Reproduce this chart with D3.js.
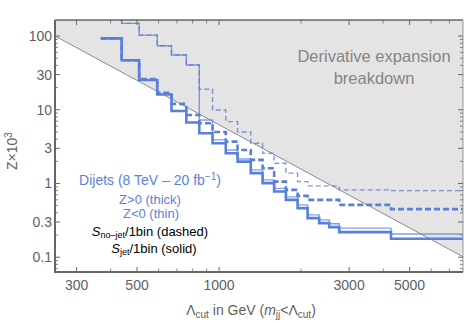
<!DOCTYPE html>
<html><head><meta charset="utf-8">
<script src="https://cdn.jsdelivr.net/npm/d3@7"></script>
<style>body{margin:0;background:#fff}svg{display:block;font-family:"Liberation Sans",Arial,sans-serif}</style>
</head><body><svg id="c" width="467" height="323"></svg>
<script>
// bin edges in Λcut (GeV)
const edges = [368, 439, 509, 593, 669, 758, 846, 946, 1058, 1169, 1307, 1444, 1592, 1758, 1941, 2112, 2329, 2535, 2759, 4272, 7850];
// Z x 10^3, Z>0 (thick), S_jet/1bin (solid)
const posJet = [93, 46.9, 25.3, 16.1, 9.63, 6.73, 4.80, 3.52, 2.57, 1.98, 1.38, 1.01, 0.777, 0.600, 0.463, 0.339, 0.290, 0.256, 0.219, 0.178];
// Z>0 (thick), S_no-jet/1bin (dashed)
const posNoJet = [93, 46.9, 26.0, 17.0, 12.0, 8.50, 6.57, 5.00, 3.70, 2.85, 2.09, 1.61, 1.06, 0.819, 0.679, 0.600, 0.600, 0.600, 0.513, 0.449];
// Z<0 (thin), S_no-jet/1bin (dashed)
const negNoJet = [300, 148.6, 103, 73.9, 55.3, 40.5, 19.0, 9.94, 6.90, 5.00, 3.52, 2.57, 1.88, 1.38, 1.06, 0.928, 0.928, 0.928, 0.819, 0.80];
// Z<0 (thin), S_jet/1bin (solid)
const negJet = [300, 148.6, 103, 73.9, 55.3, 40.5, 7.27, 3.90, 2.85, 2.15, 1.53, 1.12, 0.858, 0.658, 0.513, 0.375, 0.321, 0.284, 0.248, 0.206];
// breakdown boundary: Z x 10^3 = (boundaryScale / Λ)^2
const boundaryScale = 2500;
const xMajor = [300, 500, 1000, 3000, 5000];
const xMinor = [400, 600, 700, 800, 900, 2000, 4000, 6000, 7000];
const yMajor = [0.1, 0.3, 1, 3, 10, 30, 100];
const yMinor = [0.07, 0.08, 0.09, 0.2, 0.4, 0.5, 0.6, 0.7, 0.8, 0.9, 2, 4, 5, 6, 7, 8, 9, 20, 40, 50, 60, 70, 80, 90];

const svg = d3.select("#c");
const L = 55, R = 463, T = 20, B = 272;
const x = d3.scaleLog().domain([250, 7850]).range([L, R]);
const y = d3.scaleLog().domain([0.063, 165]).range([B, T]);

svg.append("defs").append("clipPath").attr("id", "clip")
  .append("rect").attr("x", L).attr("y", T).attr("width", R - L).attr("height", B - T);

// gray breakdown region
const xs = d3.range(0, 41).map(i => 250 * Math.pow(7850 / 250, i / 40));
const bline = xs.map(v => [x(v), y(Math.pow(boundaryScale / v, 2))]);
const poly = [[L, T], ...bline, [R, T]];
svg.append("path").attr("clip-path", "url(#clip)")
  .attr("d", "M" + poly.map(p => p.join(",")).join("L") + "Z")
  .attr("fill", "#e4e4e4");
svg.append("path").attr("clip-path", "url(#clip)")
  .attr("d", d3.line()(bline)).attr("fill", "none").attr("stroke", "#8a8a8a").attr("stroke-width", 1);

// step lines
const stepLine = d3.line().x(d => x(d[0])).y(d => y(d[1])).curve(d3.curveStepAfter);
function pts(vals) { const p = vals.map((v, i) => [edges[i], v]); p.push([edges[edges.length - 1], vals[vals.length - 1]]); return p; }
const g = svg.append("g").attr("clip-path", "url(#clip)");
const blue = "#5a7fdb";
g.append("path").attr("d", stepLine(pts(negJet))).attr("fill", "none").attr("stroke", blue).attr("stroke-opacity", 0.75).attr("stroke-width", 1.4);
g.append("path").attr("d", stepLine(pts(negNoJet))).attr("fill", "none").attr("stroke", blue).attr("stroke-opacity", 0.8).attr("stroke-width", 1.4).attr("stroke-dasharray", "5,3");
g.append("path").attr("d", stepLine(pts(posJet))).attr("fill", "none").attr("stroke", blue).attr("stroke-width", 2.6);
g.append("path").attr("d", stepLine(pts(posNoJet))).attr("fill", "none").attr("stroke", blue).attr("stroke-width", 2.6).attr("stroke-dasharray", "6,3");

// frame
const axCol = "#666";
svg.append("line").attr("x1", L).attr("x2", R).attr("y1", T).attr("y2", T).attr("stroke", "#222").attr("stroke-width", 1);
svg.append("line").attr("x1", R).attr("x2", R).attr("y1", T).attr("y2", B).attr("stroke", "#999").attr("stroke-width", 1);
// ticks
function ticks(vals, len, sw) {
  vals.forEach(v => {
    const px = x(v);
    svg.append("line").attr("x1", px).attr("x2", px).attr("y1", B).attr("y2", B - len).attr("stroke", axCol).attr("stroke-width", sw);
    svg.append("line").attr("x1", px).attr("x2", px).attr("y1", T).attr("y2", T + len).attr("stroke", axCol).attr("stroke-width", sw);
  });
}
ticks(xMajor, 5, 1); ticks(xMinor, 3.5, 0.8);
function yticks(vals, len, sw) {
  vals.forEach(v => {
    const py = y(v);
    svg.append("line").attr("x1", L).attr("x2", L + len).attr("y1", py).attr("y2", py).attr("stroke", axCol).attr("stroke-width", sw);
    svg.append("line").attr("x1", R).attr("x2", R - len).attr("y1", py).attr("y2", py).attr("stroke", axCol).attr("stroke-width", sw);
  });
}
yticks(yMajor, 5, 1); yticks(yMinor, 3, 0.8);
svg.append("line").attr("x1", L).attr("x2", R).attr("y1", B).attr("y2", B).attr("stroke", axCol).attr("stroke-width", 2);
svg.append("line").attr("x1", L).attr("x2", L).attr("y1", T).attr("y2", B + 1).attr("stroke", axCol).attr("stroke-width", 2);

// labels
const lab = "#5f5f5f";
yMajor.forEach(v => svg.append("text").attr("x", 52).attr("y", y(v) + 5).attr("text-anchor", "end")
  .attr("font-size", 14).attr("fill", lab).text(v));
xMajor.forEach(v => svg.append("text").attr("x", x(v)).attr("y", 290).attr("text-anchor", "middle")
  .attr("font-size", 14).attr("fill", lab).text(v));

// axis titles
const yt = svg.append("text").attr("transform", "translate(17,151) rotate(-90)").attr("text-anchor", "middle")
  .attr("font-size", 14).attr("fill", lab);
yt.append("tspan").text("Z\u00d710");
yt.append("tspan").attr("font-size", 10).attr("dy", -5).text("3");

const xt = svg.append("text").attr("x", 251).attr("y", 315).attr("text-anchor", "middle").attr("font-size", 14).attr("fill", lab);
xt.append("tspan").text("\u039b");
xt.append("tspan").attr("font-size", 10).attr("dy", 3).text("cut");
xt.append("tspan").attr("dy", -3).text(" in GeV (");
xt.append("tspan").attr("font-style", "italic").text("m");
xt.append("tspan").attr("font-size", 10).attr("dy", 3).text("jj");
xt.append("tspan").attr("dy", -3).text("<\u039b");
xt.append("tspan").attr("font-size", 10).attr("dy", 3).text("cut");
xt.append("tspan").attr("dy", -3).text(")");

// breakdown label
svg.append("text").attr("x", 374).attr("y", 62).attr("text-anchor", "middle").attr("font-size", 16.5).attr("fill", "#858585").text("Derivative expansion");
svg.append("text").attr("x", 374).attr("y", 84).attr("text-anchor", "middle").attr("font-size", 16.5).attr("fill", "#858585").text("breakdown");

// legend
const lblue = "#5d80e0";
const d1 = svg.append("text").attr("x", 150).attr("y", 185).attr("text-anchor", "middle").attr("font-size", 14).attr("fill", lblue);
d1.append("tspan").text("Dijets (8 TeV \u2013 20 fb");
d1.append("tspan").attr("font-size", 10).attr("dy", -5).text("\u22121");
d1.append("tspan").attr("dy", 5).text(")");
svg.append("text").attr("x", 150).attr("y", 204).attr("text-anchor", "middle").attr("font-size", 13).attr("fill", lblue).text("Z>0 (thick)");
svg.append("text").attr("x", 151).attr("y", 218).attr("text-anchor", "middle").attr("font-size", 13).attr("fill", lblue).text("Z<0 (thin)");
const s1 = svg.append("text").attr("x", 150).attr("y", 236).attr("text-anchor", "middle").attr("font-size", 13).attr("fill", "#000");
s1.append("tspan").attr("font-style", "italic").text("S");
s1.append("tspan").attr("font-size", 9).attr("dy", 2).text("no\u2013jet");
s1.append("tspan").attr("dy", -2).text("/1bin (dashed)");
const s2 = svg.append("text").attr("x", 154).attr("y", 253).attr("text-anchor", "middle").attr("font-size", 13).attr("fill", "#000");
s2.append("tspan").attr("font-style", "italic").text("S");
s2.append("tspan").attr("font-size", 9).attr("dy", 2).text("jet");
s2.append("tspan").attr("dy", -2).text("/1bin (solid)");
</script></body></html>
